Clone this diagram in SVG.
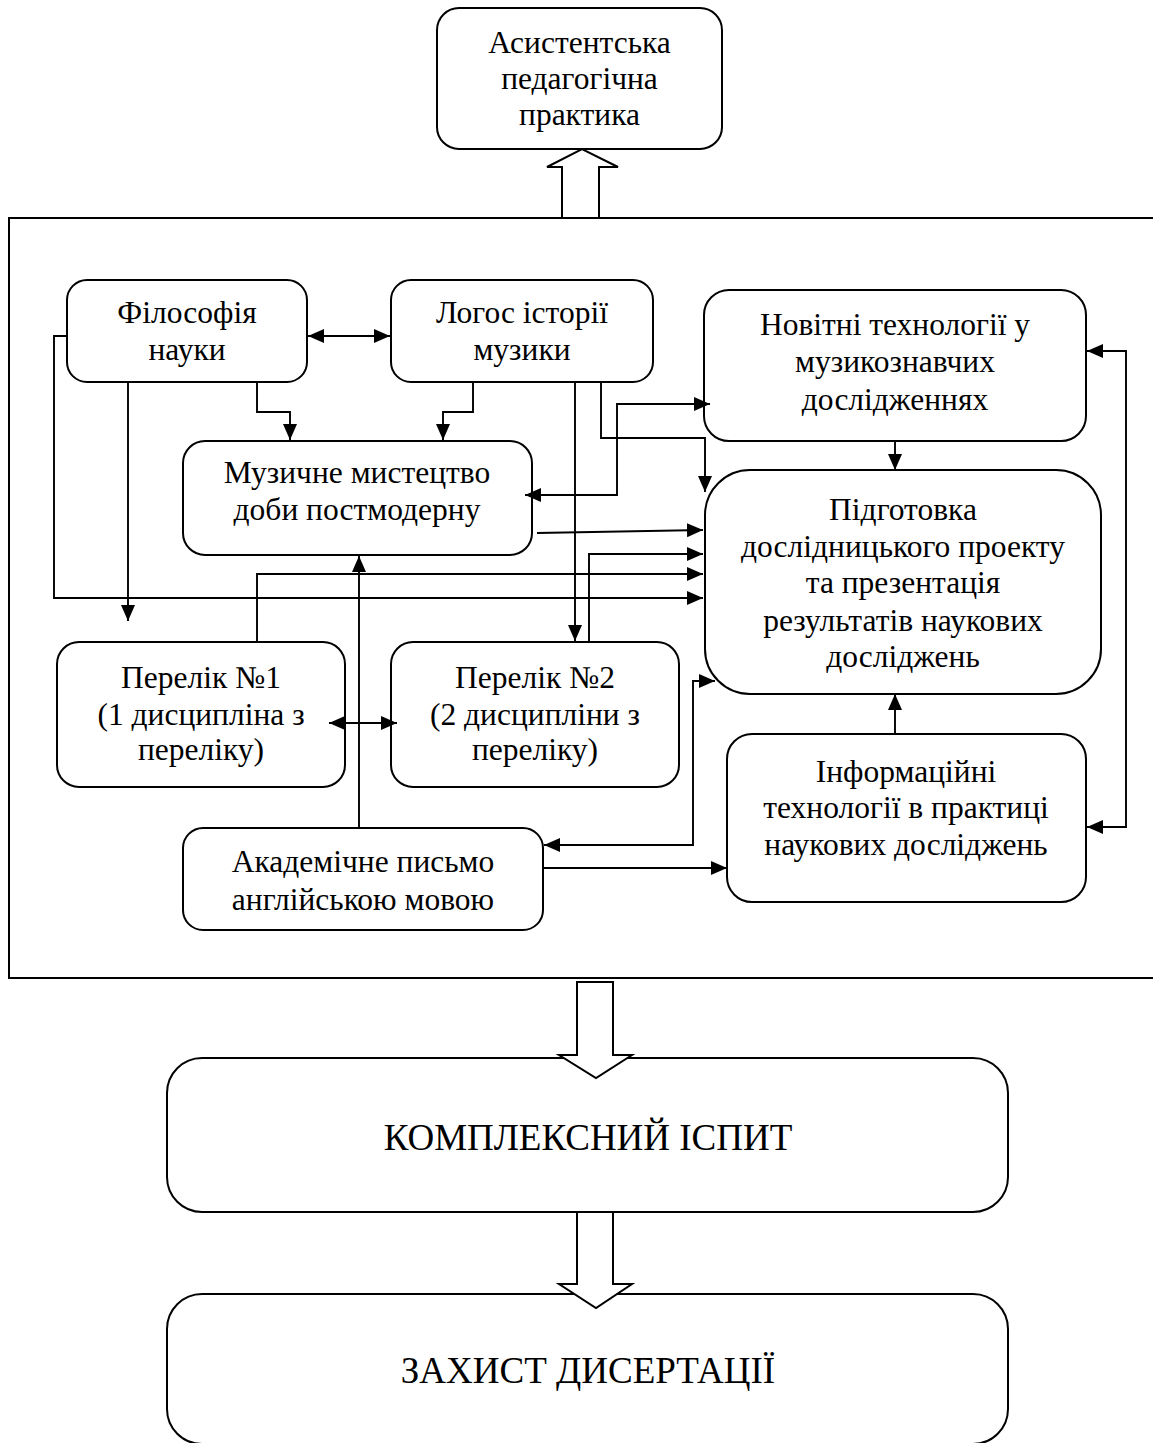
<svg xmlns="http://www.w3.org/2000/svg" width="1153" height="1443" viewBox="0 0 1153 1443">
<defs>
<marker id="ah" markerUnits="userSpaceOnUse" markerWidth="17" markerHeight="15" refX="16" refY="7" orient="auto-start-reverse">
<path d="M0,0 L16,7 L0,14 z" fill="#000"/>
</marker>
<style>
.box{fill:#fff;stroke:#000;stroke-width:2}
.t{font-family:"Liberation Serif","Times New Roman",serif;font-size:31.5px;text-anchor:middle;fill:#000}
.big{font-size:37px}
.c{fill:none;stroke:#000;stroke-width:1.9}
.a{marker-end:url(#ah)}
.b{marker-start:url(#ah);marker-end:url(#ah)}
.hollow{fill:#fff;stroke:#000;stroke-width:2;stroke-linejoin:miter}
</style>
</defs>
<rect width="1153" height="1443" fill="#fff"/>

<g id="frame">
<path d="M1153,218 L9,218 L9,978 L1153,978" fill="none" stroke="#000" stroke-width="2"/>
</g>

<g id="n-asist">
<rect class="box" x="437" y="8" width="285" height="141" rx="22"/>
<text class="t" x="579.5" y="53">Асистентська</text>
<text class="t" x="579.5" y="89">педагогічна</text>
<text class="t" x="579.5" y="125">практика</text>
</g>

<g id="n-filos">
<rect class="box" x="67" y="280" width="240" height="102" rx="20"/>
<text class="t" x="187" y="323">Філософія</text>
<text class="t" x="187" y="360">науки</text>
</g>

<g id="n-logos">
<rect class="box" x="391" y="280" width="262" height="102" rx="20"/>
<text class="t" x="522" y="323">Логос історії</text>
<text class="t" x="522" y="360">музики</text>
</g>

<g id="n-novitni">
<rect class="box" x="704" y="290" width="382" height="151" rx="25"/>
<text class="t" x="895" y="335">Новітні технології у</text>
<text class="t" x="895" y="372">музикознавчих</text>
<text class="t" x="895" y="410">дослідженнях</text>
</g>

<g id="n-music">
<rect class="box" x="183" y="441" width="349" height="114" rx="22"/>
<text class="t" x="357" y="483">Музичне мистецтво</text>
<text class="t" x="357" y="520">доби постмодерну</text>
</g>

<g id="n-pidg">
<rect class="box" x="705" y="470" width="396" height="224" rx="45"/>
<text class="t" x="903" y="520">Підготовка</text>
<text class="t" x="903" y="557">дослідницького проекту</text>
<text class="t" x="903" y="593">та презентація</text>
<text class="t" x="903" y="631">результатів наукових</text>
<text class="t" x="903" y="667">досліджень</text>
</g>

<g id="n-perelik1">
<rect class="box" x="57" y="642" width="288" height="145" rx="22"/>
<text class="t" x="201" y="688">Перелік №1</text>
<text class="t" x="201" y="725">(1 дисципліна з</text>
<text class="t" x="201" y="760">переліку)</text>
</g>

<g id="n-perelik2">
<rect class="box" x="391" y="642" width="288" height="145" rx="22"/>
<text class="t" x="535" y="688">Перелік №2</text>
<text class="t" x="535" y="725">(2 дисципліни з</text>
<text class="t" x="535" y="760">переліку)</text>
</g>

<g id="n-akadem">
<rect class="box" x="183" y="828" width="360" height="102" rx="20"/>
<text class="t" x="363" y="872">Академічне письмо</text>
<text class="t" x="363" y="910">англійською мовою</text>
</g>

<g id="n-inform">
<rect class="box" x="727" y="734" width="359" height="168" rx="25"/>
<text class="t" x="906" y="782">Інформаційні</text>
<text class="t" x="906" y="818">технології в практиці</text>
<text class="t" x="906" y="855">наукових досліджень</text>
</g>

<g id="n-komplex">
<rect class="box" x="167" y="1058" width="841" height="154" rx="35"/>
<text class="t big" x="588" y="1150">КОМПЛЕКСНИЙ ІСПИТ</text>
</g>

<g id="n-zakhyst">
<rect class="box" x="167" y="1294" width="841" height="150" rx="35"/>
<text class="t big" x="588" y="1383">ЗАХИСТ ДИСЕРТАЦІЇ</text>
</g>

<g id="connectors">
<line class="c b" x1="308" y1="336" x2="390" y2="336"/>
<polyline class="c a" points="257,382 257,412 290,412 290,440"/>
<polyline class="c a" points="473,382 473,412 443,412 443,440"/>
<line class="c a" x1="128" y1="382" x2="128" y2="621"/>
<polyline class="c a" points="67,336 54,336 54,598 703,598"/>
<polyline class="c a" points="257,642 257,574 703,574"/>
<line class="c a" x1="359" y1="828" x2="359" y2="556"/>
<line class="c a" x1="575" y1="382" x2="575" y2="641"/>
<polyline class="c a" points="589,642 589,554 703,554"/>
<line class="c a" x1="537" y1="533" x2="703" y2="530"/>
<polyline class="c a" points="601,382 601,438 705,438 705,492"/>
<polyline class="c b" points="525,495 617,495 617,404 710,404"/>
<line class="c b" x1="329" y1="723" x2="397" y2="723"/>
<polyline class="c b" points="544,845 693,845 693,681 715,681"/>
<line class="c a" x1="543" y1="868" x2="727" y2="868"/>
<line class="c a" x1="895" y1="441" x2="895" y2="470"/>
<line class="c a" x1="895" y1="734" x2="895" y2="694"/>
<polyline class="c b" points="1087,351 1126,351 1126,827 1087,827"/>
</g>

<g id="arrow-up">
<polygon class="hollow" points="562,218 562,167 547,167 582,149 618,167 599,167 599,218"/>
</g>
<g id="arrow-down1">
<polygon class="hollow" points="577,982 613,982 613,1055 632,1055 596,1078 559,1055 577,1055"/>
</g>
<g id="arrow-down2">
<polygon class="hollow" points="577,1212 613,1212 613,1284 632,1284 596,1308 559,1284 577,1284"/>
</g>
</svg>
